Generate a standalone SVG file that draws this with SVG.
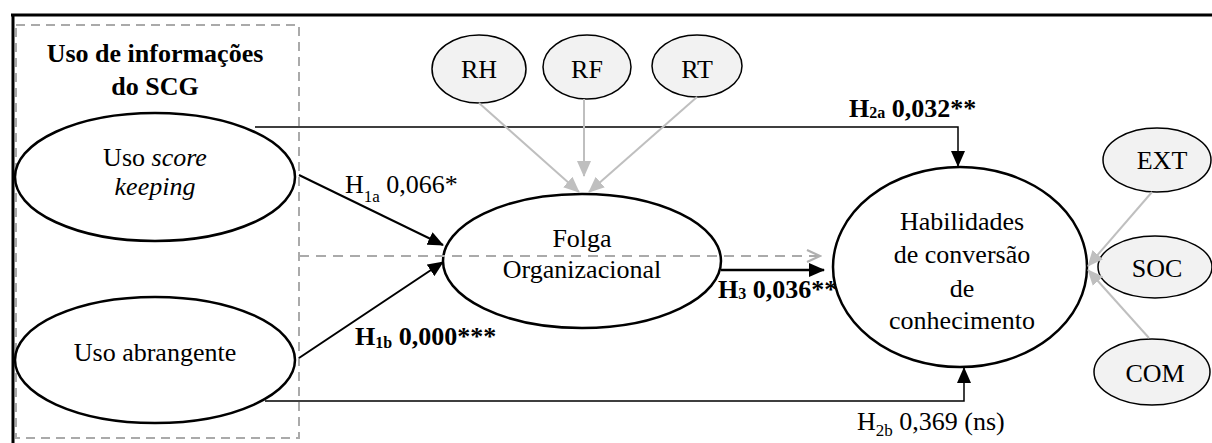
<svg xmlns="http://www.w3.org/2000/svg" width="1212" height="443" viewBox="0 0 1212 443" font-family="'Liberation Serif', 'DejaVu Serif', serif">
<style>
text{font-family:'Liberation Serif','DejaVu Serif',serif;fill:#000}
.t{font-size:26px;text-anchor:middle}
.b{font-weight:bold}
.big{fill:#fff;stroke:#000;stroke-width:2.5}
.small{fill:#f2f2f2;stroke:#000;stroke-width:1.5}
.gray{stroke:#bfbfbf;stroke-width:2;fill:none}
.blk{stroke:#000;fill:none}
.lab{font-size:26px}
.sub{font-size:17px}
.subb{font-size:16px}
</style>
<defs>
<marker id="ab2" markerWidth="16" markerHeight="14" refX="15" refY="7" orient="auto" markerUnits="userSpaceOnUse" viewBox="0 0 16 14">
<path d="M0,0 L16,7 L0,14 z" fill="#000"/>
</marker>
<marker id="ag" markerWidth="16" markerHeight="14" refX="15" refY="7" orient="auto" markerUnits="userSpaceOnUse" viewBox="0 0 16 14">
<path d="M0,0 L16,7 L0,14 z" fill="#bfbfbf"/>
</marker>
<marker id="ao" markerWidth="16" markerHeight="14" refX="14" refY="7" orient="auto" markerUnits="userSpaceOnUse" viewBox="0 0 16 14">
<path d="M1,1 L14,7 L1,13" fill="none" stroke="#b0b0b0" stroke-width="2.2"/>
</marker>
</defs>

<g id="frame">
<line x1="11" y1="15" x2="1212" y2="15" stroke="#000" stroke-width="3"/>
<line x1="13" y1="14" x2="13" y2="443" stroke="#000" stroke-width="3"/>
</g>

<g id="group-box">
<path d="M16,25 H299 V438 H16 Z" fill="none" stroke="#aaa" stroke-width="2" stroke-dasharray="9,6"/>
<text class="t b" x="155" y="62">Uso de informações</text>
<text class="t b" x="155" y="95">do SCG</text>
</g>

<g id="uso-score">
<ellipse class="big" cx="155" cy="177" rx="140" ry="64"/>
<text class="t" x="155" y="166">Uso <tspan font-style="italic">score</tspan></text>
<text class="t" x="155" y="195" font-style="italic">keeping</text>
</g>

<g id="uso-abrangente">
<ellipse class="big" cx="155" cy="360" rx="140" ry="63"/>
<text class="t" x="155" y="361">Uso abrangente</text>
</g>

<g id="folga">
<ellipse class="big" cx="582" cy="261" rx="139" ry="67"/>
<text class="t" x="582" y="247">Folga</text>
<text class="t" x="582" y="278">Organizacional</text>
</g>

<g id="habilidades">
<ellipse class="big" cx="960" cy="267" rx="127" ry="100"/>
<text class="t" x="962" y="230">Habilidades</text>
<text class="t" x="962" y="263">de conversão</text>
<text class="t" x="962" y="297">de</text>
<text class="t" x="962" y="329">conhecimento</text>
</g>

<g id="rh"><ellipse class="small" cx="479" cy="69" rx="47" ry="34"/><text class="t" x="479" y="78">RH</text></g>
<g id="rf"><ellipse class="small" cx="587" cy="67" rx="44" ry="32"/><text class="t" x="587" y="78">RF</text></g>
<g id="rt"><ellipse class="small" cx="697" cy="66" rx="45" ry="31"/><text class="t" x="697" y="78">RT</text></g>
<g id="ext"><ellipse class="small" cx="1157" cy="160" rx="54" ry="32"/><text class="t" x="1162" y="169">EXT</text></g>
<g id="soc"><ellipse class="small" cx="1155" cy="267" rx="57" ry="31"/><text class="t" x="1157" y="277">SOC</text></g>
<g id="com"><ellipse class="small" cx="1152" cy="372" rx="58" ry="33"/><text class="t" x="1155" y="382">COM</text></g>

<g id="connectors">
<path class="blk" d="M255,127 H958 V166" stroke-width="1.5" marker-end="url(#ab2)"/>
<path class="blk" d="M265,401 H964 V368" stroke-width="1.5" marker-end="url(#ab2)"/>
<line class="blk" x1="299" y1="175" x2="443" y2="245" stroke-width="2" marker-end="url(#ab2)"/>
<line class="blk" x1="299" y1="358" x2="443" y2="262" stroke-width="2" marker-end="url(#ab2)"/>
<line class="blk" x1="721" y1="270" x2="824" y2="270" stroke-width="2.5" marker-end="url(#ab2)"/>
<line x1="299" y1="256" x2="820" y2="256" stroke="#aaa" stroke-width="2" stroke-dasharray="10,7" marker-end="url(#ao)"/>
<line class="gray" x1="479" y1="103" x2="579" y2="192" marker-end="url(#ag)"/>
<line class="gray" x1="584" y1="99" x2="584" y2="176" marker-end="url(#ag)"/>
<line class="gray" x1="697" y1="97" x2="589" y2="192" marker-end="url(#ag)"/>
<line class="gray" x1="1152" y1="192" x2="1088" y2="266" marker-end="url(#ag)"/>
<line class="gray" x1="1149" y1="338" x2="1088" y2="270" marker-end="url(#ag)"/>
</g>

<g id="labels">
<text class="lab" x="345" y="193">H<tspan class="sub" dy="9">1a</tspan><tspan dy="-9"> 0,066*</tspan></text>
<text class="lab b" x="355" y="345">H<tspan class="subb" dy="3">1b</tspan><tspan dy="-3"> 0,000***</tspan></text>
<text class="lab b" x="849" y="117">H<tspan class="subb" dy="1">2a</tspan><tspan dy="-1"> 0,032**</tspan></text>
<text class="lab b" x="718" y="298">H<tspan class="subb" dy="1">3</tspan><tspan dy="-1"> 0,036**</tspan></text>
<text class="lab" x="857" y="430">H<tspan class="sub" dy="6">2b</tspan><tspan dy="-6"> 0,369 (ns)</tspan></text>
</g>
</svg>
